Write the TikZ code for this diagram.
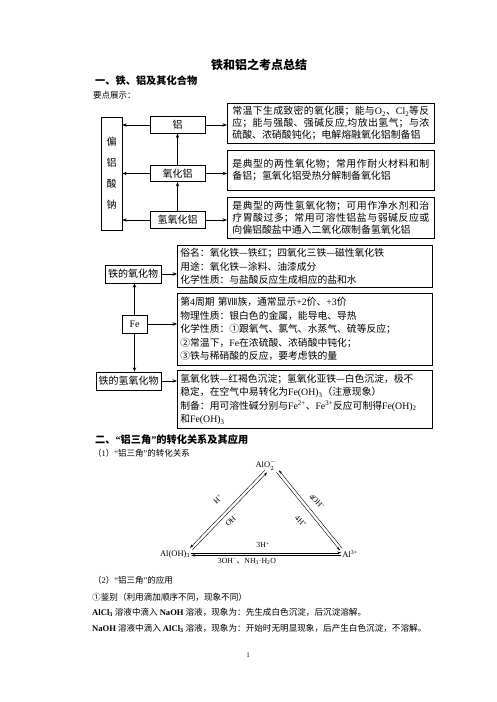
\documentclass[tikz,border=0pt]{standalone}
\usepackage{fontspec}
\setmainfont{Noto Sans CJK SC}
\newfontfamily\tm{Liberation Serif}
\usetikzlibrary{arrows.meta}
\newcommand\zhjust{\XeTeXlinebreaklocale "zh"\XeTeXlinebreakskip=0pt plus 3pt\relax}
\begin{document}
\begin{tikzpicture}[x=1pt,y=-1pt,
  txt/.style={inner sep=0pt, anchor=west},
  sbox/.style={draw, line width=0.6pt, inner sep=0pt, font=\fontsize{10}{12}\selectfont},
  jbox/.style={draw, line width=0.7pt, anchor=north west, inner xsep=5pt, inner ysep=2pt, text width=197pt, align=justify,
     font=\fontsize{9.9}{12.2}\selectfont\zhjust},
  fbox/.style={draw, line width=0.7pt, anchor=north west, inner xsep=3pt, inner ysep=2pt, text width=249pt, align=left,
     font=\fontsize{9.8}{13.5}\selectfont},
  arr/.style={-{Stealth[length=4.5pt,width=3.4pt]}, line width=0.6pt},
  tn/.style={inner sep=1pt, font=\fontsize{8.5}{9}\selectfont},
  tl/.style={inner sep=0pt, font=\fontsize{7.8}{8}\selectfont},
  tarr/.style={-{Stealth[length=4pt,width=2.4pt]}, line width=0.4pt}]
\useasboundingbox[fill=white] (0,0) rectangle (496,702);

% headings
\node[inner sep=0pt, font=\fontsize{12}{12}\selectfont\bfseries] (title) at (259,65) {铁和铝之考点总结};
\node[txt, font=\fontsize{10.2}{12}\selectfont\bfseries] (h1) at (95,81) {一、铁、铝及其化合物};
\node[txt, font=\fontsize{8.5}{10}\selectfont] (yd) at (93,95) {要点展示：};

% aluminium part
\node[sbox, minimum width=21pt, minimum height=113pt, align=center, font=\fontsize{10}{21}\selectfont] (pl) at (111.5,173.5) {偏\\铝\\酸\\钠};
\node[sbox, minimum width=55pt, minimum height=16.5pt] (al) at (177.5,125) {铝};
\node[sbox, minimum width=55pt, minimum height=16.5pt] (al2o3) at (177.5,173.5) {氧化铝};
\node[sbox, minimum width=55pt, minimum height=16.5pt] (aloh3) at (177.5,220) {氢氧化铝};

\node[jbox, minimum height=40pt] (t1) at (227,103) {常温下生成致密的氧化膜；能与{\tm O\textsubscript{2}}、{\tm Cl\textsubscript{2}}等反\linebreak 应；能与强酸、强碱反应{\tm ,}均放出氢气；与浓\linebreak 硫酸、浓硝酸钝化；电解熔融氧化铝制备铝};
\node[jbox, minimum height=40pt] (t2) at (227,150) {是典型的两性氧化物；常用作耐火材料和制\linebreak 备铝；氢氧化铝受热分解制备氧化铝};
\node[jbox, minimum height=41pt] (t3) at (227,197) {是典型的两性氢氧化物；可用作净水剂和治\linebreak 疗胃酸过多；常用可溶性铝盐与弱碱反应或\linebreak 向偏铝酸盐中通入二氧化碳制备氢氧化铝};

\draw[arr] (al.west) -- (pl.east |- al.west);
\draw[arr] (al2o3.west) -- (pl.east |- al2o3.west);
\draw[arr] (aloh3.west) -- (pl.east |- aloh3.west);
\draw[arr] (al.east) -- (t1.west |- al.east);
\draw[arr] (al2o3.east) -- (t2.west |- al2o3.east);
\draw[arr] (aloh3.east) -- (t3.west |- aloh3.east);
\draw[arr] (aloh3.north) -- (al2o3.south);
\draw[arr] (al2o3.north) -- (al.south);

% iron part
\node[sbox, minimum width=56pt, minimum height=18pt] (feox) at (133,274) {铁的氧化物};
\node[sbox, minimum width=25pt, minimum height=18pt] (fe) at (134.5,324) {\tm Fe};
\node[sbox, minimum width=65pt, minimum height=18pt] (feoh) at (128.5,381) {铁的氢氧化物};

\node[fbox, minimum height=42pt] (fa) at (177,245) {俗名：氧化铁—铁红；四氧化三铁—磁性氧化铁\\用途：氧化铁—涂料、油漆成分\\化学性质：与盐酸反应生成相应的盐和水};
\node[fbox, minimum height=72pt] (fb) at (177,293) {第{\tm 4}周期 第Ⅷ族，通常显示{\tm +2}价、{\tm +3}价\\物理性质：银白色的金属，能导电、导热\\化学性质：①跟氧气、氯气、水蒸气、硫等反应；\\②常温下，{\tm Fe}在浓硫酸、浓硝酸中钝化；\\③铁与稀硝酸的反应，要考虑铁的量};
\node[fbox, minimum height=58pt] (fc) at (177,370) {氢氧化铁—红褐色沉淀；氢氧化亚铁—白色沉淀，极不\\稳定，在空气中易转化为{\tm Fe(OH)\textsubscript{3}}（注意现象）\\制备：用可溶性碱分别与{\tm Fe\textsuperscript{2+}}、{\tm Fe\textsuperscript{3+}}反应可制得{\tm Fe(OH)\textsubscript{2}}\\和{\tm Fe(OH)\textsubscript{3}}};

\draw[arr] (fe.north) -- (fe.north |- feox.south);
\draw[arr] (fe.south) -- (fe.south |- feoh.north);
\draw[arr] (feox.east) -- (fa.west |- feox.east);
\draw[arr] (fe.east) -- (fb.west |- fe.east);
\draw[arr] (feoh.east) -- (fc.west |- feoh.east);

% section 2
\node[txt, font=\fontsize{10.2}{12}\selectfont\bfseries] (h2) at (95,440) {二、{\tm “}铝三角{\tm ”}的转化关系及其应用};
\node[txt, font=\fontsize{8.5}{10}\selectfont] (s1) at (93,453) {（{\tm 1}）{\tm “}铝三角{\tm ”}的转化关系};

\node[tn] (alo2) at (266,465) {{\tm AlO}$_2^-$};
\node[tn] (aloh) at (175,554) {\tm Al(OH)\textsubscript{3}};
\node[tn] (al3) at (350,554) {\tm Al\textsuperscript{3+}};

\draw[tarr, transform canvas={shift={(-1.1,-1.1)}}] (alo2.south) -- (aloh.north east);
\draw[tarr, transform canvas={shift={(1.1,1.1)}}] (aloh.north east) -- (alo2.south);
\draw[tarr, transform canvas={shift={(1.1,-1.1)}}] (al3.north west) -- (alo2.south east);
\draw[tarr, transform canvas={shift={(-1.1,1.1)}}] (alo2.south east) -- (al3.north west);
\draw[tarr, transform canvas={shift={(0,-1.3)}}] (aloh.east) -- (al3.west);
\draw[tarr, transform canvas={shift={(0,1.3)}}] (al3.west) -- (aloh.east);

\node[tl, rotate=44] (lh) at (218,499) {\tm H\textsuperscript{+}};
\node[tl, rotate=44] (loh) at (232,520) {\tm OH\textsuperscript{−}};
\node[tl, rotate=-46] (r4oh) at (317,502) {\tm 4OH\textsuperscript{−}};
\node[tl, rotate=-46] (r4h) at (301,521) {\tm 4H\textsuperscript{+}};
\node[tl] (b3h) at (263,545) {\tm 3H\textsuperscript{+}};
\node[tl] (b3oh) at (247,561) {{\tm 3OH\textsuperscript{−}}、{\tm NH\textsubscript{3}·H\textsubscript{2}O}};

\node[txt, font=\fontsize{8.5}{10}\selectfont] (s2) at (93,580) {（{\tm 2}）{\tm “}铝三角{\tm ”}的应用};
\node[txt, font=\fontsize{8.6}{10}\selectfont] (jb) at (92,597) {①鉴别（利用滴加顺序不同，现象不同）};
\node[txt, font=\fontsize{8.6}{10}\selectfont] (l1) at (92,612) {{\tm\bfseries AlCl\textsubscript{3}} 溶液中滴入 {\tm\bfseries NaOH} 溶液，现象为：先生成白色沉淀，后沉淀溶解。};
\node[txt, font=\fontsize{8.6}{10}\selectfont] (l2) at (92,628) {{\tm\bfseries NaOH} 溶液中滴入 {\tm\bfseries AlCl\textsubscript{3}} 溶液，现象为：开始时无明显现象，后产生白色沉淀，不溶解。};
\node[inner sep=0pt, font=\fontsize{7}{8}\selectfont] (pg) at (248,655) {\tm 1};
\end{tikzpicture}
\end{document}
